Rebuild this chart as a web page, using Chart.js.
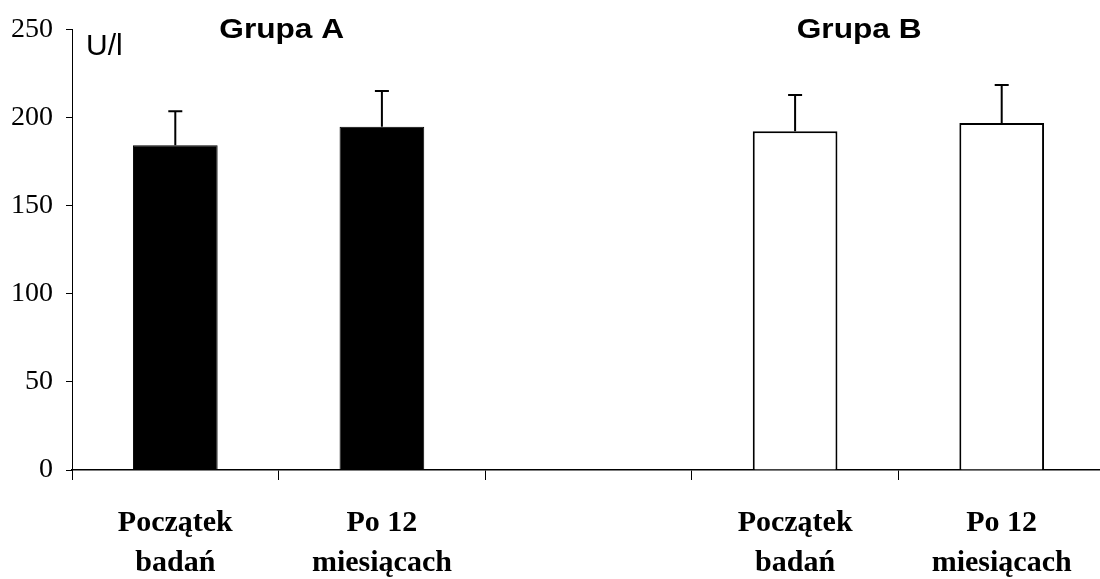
<!DOCTYPE html>
<html>
<head>
<meta charset="utf-8">
<script src="https://cdn.jsdelivr.net/npm/chart.js@4/dist/chart.umd.min.js"></script>
<style>
  html, body { margin: 0; padding: 0; background: #fff; overflow: hidden; }
  #wrap { width: 1105px; height: 579px; }
</style>
</head>
<body>
<div id="wrap"><canvas id="c" width="1105" height="579"></canvas></div>
<script>
// Categories: two groups separated by an empty slot
const categories = [
  ['Początek', 'badań'],
  ['Po 12', 'miesiącach'],
  '',
  ['Początek', 'badań'],
  ['Po 12', 'miesiącach']
];
// Mean activity (U/l) and standard deviation per category
const groupA = [184.5, 195.0, null, null, null];
const groupB = [null, null, null, 192.4, 197.0];
const sdA = [19.2, 20.2, null, null, null];
const sdB = [null, null, null, 20.6, 21.7];
const yTicks = [0, 50, 100, 150, 200, 250];

// Group headings placed at fractional category positions
const headings = [
  { text: 'Grupa A', at: 0.515 },
  { text: 'Grupa B', at: 3.31 }
];

const SERIF = '"Liberation Serif", "Times New Roman", serif';
const SANS = '"Liberation Sans", Arial, sans-serif';

// Draws text centred at x with a horizontal stretch factor
function stretchedText(ctx, text, x, y, sx) {
  ctx.save();
  ctx.translate(x, y);
  ctx.scale(sx, 1);
  ctx.fillText(text, 0, 0);
  ctx.restore();
}

const errorBars = {
  id: 'errorBars',
  afterDatasetsDraw(chart) {
    const ctx = chart.ctx;
    const y = chart.scales.y;
    const sets = [[0, sdA], [1, sdB]];
    ctx.save();
    ctx.strokeStyle = '#000';
    ctx.lineWidth = 2;
    sets.forEach(([di, sd]) => {
      const meta = chart.getDatasetMeta(di);
      const vals = chart.data.datasets[di].data;
      meta.data.forEach((bar, i) => {
        if (vals[i] == null || sd[i] == null) return;
        const x = bar.x;
        const top = y.getPixelForValue(vals[i] + sd[i]);
        const base = y.getPixelForValue(vals[i]);
        ctx.beginPath();
        ctx.moveTo(x, base);
        ctx.lineTo(x, top);
        ctx.moveTo(x - 7, top);
        ctx.lineTo(x + 7, top);
        ctx.stroke();
      });
    });
    ctx.restore();
  }
};

const texts = {
  id: 'texts',
  afterDraw(chart) {
    const ctx = chart.ctx;
    const xs = chart.scales.x;
    const area = chart.chartArea;
    ctx.save();
    ctx.fillStyle = '#000';
    ctx.textAlign = 'center';
    ctx.textBaseline = 'alphabetic';

    // Group headings
    ctx.font = 'bold 28px ' + SANS;
    headings.forEach(h => {
      stretchedText(ctx, h.text, xs.getPixelForValue(h.at), 38, 1.13);
    });

    // Unit label
    ctx.textAlign = 'left';
    ctx.font = '30px ' + SANS;
    ctx.fillText('U/l', area.left + 14, 55);

    // Category labels, two lines each
    ctx.textAlign = 'center';
    ctx.font = 'bold 30px ' + SERIF;
    categories.forEach((lab, i) => {
      const lines = Array.isArray(lab) ? lab : [lab];
      const x = xs.getPixelForTick(i);
      lines.forEach((ln, k) => {
        stretchedText(ctx, ln, x, area.bottom + 61 + k * 40, 1.0);
      });
    });
    ctx.restore();
  }
};

new Chart(document.getElementById('c'), {
  type: 'bar',
  data: {
    labels: categories,
    datasets: [
      {
        data: groupA,
        backgroundColor: '#000',
        borderColor: '#000',
        borderWidth: 1,
        categoryPercentage: 1,
        barPercentage: 0.41,
        skipNull: true
      },
      {
        data: groupB,
        backgroundColor: '#fff',
        borderColor: '#000',
        borderWidth: 2,
        categoryPercentage: 1,
        barPercentage: 0.41,
        skipNull: true
      }
    ]
  },
  options: {
    responsive: false,
    animation: false,
    layout: { padding: { top: 25, right: 0, left: 0, bottom: 0 } },
    plugins: { legend: { display: false }, tooltip: { enabled: false } },
    scales: {
      x: {
        offset: true,
        afterFit(s) { s.height = 109; },
        grid: { offset: true, drawOnChartArea: false, drawTicks: true, tickLength: 10, color: '#000', lineWidth: 1 },
        border: { display: true, color: '#000', width: 1.5 },
        ticks: { display: false, autoSkip: false }
      },
      y: {
        min: 0,
        max: 250,
        afterFit(s) { s.width = 72; },
        afterBuildTicks(s) { s.ticks = yTicks.map(v => ({ value: v })); },
        grid: { drawOnChartArea: false, drawTicks: true, tickLength: 6, color: '#000', lineWidth: 1 },
        border: { display: true, color: '#000', width: 1 },
        ticks: {
          color: '#000',
          padding: 13,
          font: { family: SERIF, size: 28 }
        }
      }
    }
  },
  plugins: [errorBars, texts]
});
</script>
</body>
</html>
